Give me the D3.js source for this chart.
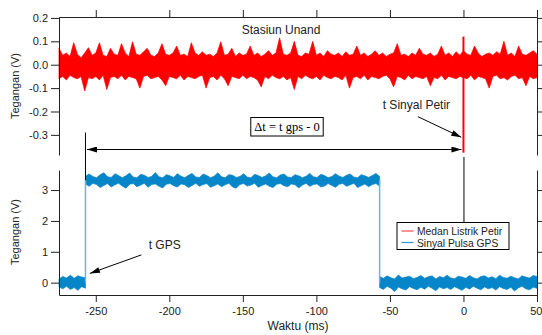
<!DOCTYPE html>
<html>
<head>
<meta charset="utf-8">
<script src="https://cdn.jsdelivr.net/npm/d3@7"></script>
<style>
  body { margin: 0; background: #fff; }
  svg { display: block; font-family: "Liberation Sans", Arial, sans-serif; }
</style>
</head>
<body>
<svg id="chart" width="542" height="335"></svg>
<script>
// time axis (ms)
const timeDomain = [-275, 50];
const xTicks = [-250, -200, -150, -100, -50, 0, 50];
const topTicks = [0.2, 0.1, 0.0, -0.1, -0.2, -0.3];
const bottomTicks = [0, 1, 2, 3];

// Medan Listrik Petir: envelope (max / min per 2.5 ms bin), -275 .. 50 ms
const redHi = [
  0.07,0.04,0.05,0.035,0.094,0.045,0.03,0.05,0.073,0.04,
  0.05,0.094,0.04,0.035,0.07,0.045,0.04,0.09,0.05,0.035,
  0.098,0.045,0.04,0.055,0.07,0.04,0.035,0.05,0.09,0.045,
  0.04,0.05,0.08,0.04,0.045,0.035,0.094,0.05,0.04,0.055,
  0.04,0.045,0.035,0.05,0.098,0.04,0.045,0.07,0.035,0.05,
  0.04,0.045,0.08,0.04,0.05,0.035,0.045,0.06,0.04,0.05,
  0.115,0.045,0.04,0.05,0.1,0.04,0.035,0.05,0.045,0.1,
  0.04,0.05,0.035,0.06,0.045,0.04,0.05,0.035,0.055,0.04,
  0.045,0.08,0.04,0.05,0.035,0.045,0.06,0.04,0.05,0.035,
  0.045,0.05,0.09,0.04,0.045,0.035,0.05,0.04,0.07,0.045,
  0.04,0.05,0.035,0.045,0.08,0.04,0.05,0.035,0.055,0.04,
  0.06,0.045,0.04,0.08,0.05,0.035,0.045,0.05,0.04,0.055,
  0.045,0.1,0.04,0.05,0.035,0.08,0.045,0.04,0.05,0.06,
  0.045
];
const redLo = [
  -0.06,-0.05,-0.065,-0.045,-0.055,-0.06,-0.05,-0.112,-0.055,-0.06,
  -0.05,-0.065,-0.045,-0.106,-0.055,-0.05,-0.06,-0.045,-0.065,-0.05,
  -0.055,-0.06,-0.1,-0.05,-0.045,-0.06,-0.055,-0.05,-0.065,-0.09,
  -0.05,-0.055,-0.06,-0.045,-0.065,-0.05,-0.055,-0.06,-0.05,-0.045,
  -0.1,-0.055,-0.05,-0.065,-0.045,-0.06,-0.09,-0.05,-0.055,-0.06,
  -0.045,-0.06,-0.05,-0.055,-0.065,-0.095,-0.05,-0.06,-0.045,-0.055,
  -0.06,-0.05,-0.065,-0.055,-0.106,-0.05,-0.06,-0.045,-0.055,-0.06,
  -0.05,-0.065,-0.045,-0.055,-0.06,-0.05,-0.055,-0.065,-0.045,-0.1,
  -0.055,-0.05,-0.06,-0.045,-0.065,-0.05,-0.055,-0.06,-0.05,-0.045,
  -0.06,-0.095,-0.05,-0.055,-0.065,-0.045,-0.06,-0.05,-0.055,-0.06,
  -0.05,-0.09,-0.055,-0.06,-0.045,-0.065,-0.05,-0.055,-0.06,-0.05,
  -0.055,-0.06,-0.045,-0.065,-0.05,-0.055,-0.06,-0.1,-0.05,-0.045,
  -0.06,-0.055,-0.065,-0.05,-0.045,-0.06,-0.055,-0.09,-0.05,-0.06,
  -0.055
];
// lightning stroke at t = 0
const petirT = 0;
const petirHi = 0.12;
const petirLo = -0.376;

// Sinyal Pulsa GPS: three segments (low, high, low)
const gpsT = -257;
const gpsFallT = -57;
const gpsLevel = 3.32;

const gpsLowAHi = [0.12,0.20,0.15,0.24,0.14,0.22,0.18,0.16];
const gpsLowALo = [-0.14,-0.20,-0.12,-0.22,-0.16,-0.25,-0.13,-0.18];

const gpsHighHi = [
  3.45,3.52,3.44,3.40,3.50,3.56,3.43,3.41,3.53,3.47,
  3.40,3.46,3.55,3.42,3.40,3.51,3.48,3.41,3.44,3.57,
  3.43,3.40,3.50,3.46,3.41,3.53,3.45,3.40,3.48,3.54,
  3.42,3.41,3.52,3.47,3.40,3.45,3.56,3.43,3.40,3.50,
  3.48,3.41,3.44,3.53,3.42,3.40,3.51,3.47,3.41,3.46,
  3.55,3.43,3.40,3.49,3.52,3.42,3.41,3.50,3.46,3.40,
  3.45,3.54,3.43,3.41,3.51,3.47,3.40,3.44,3.53,3.45,
  3.41,3.48,3.52,3.42,3.40,3.50,3.46,3.41,3.47,3.54,
  3.44
];
const gpsHighLo = [
  3.20,3.12,3.22,3.18,3.08,3.15,3.21,3.10,3.17,3.22,
  3.13,3.06,3.19,3.21,3.11,3.16,3.22,3.09,3.18,3.20,
  3.12,3.07,3.19,3.21,3.14,3.10,3.20,3.17,3.08,3.15,
  3.22,3.12,3.18,3.21,3.09,3.14,3.20,3.11,3.17,3.22,
  3.10,3.06,3.18,3.21,3.13,3.16,3.22,3.09,3.15,3.20,
  3.12,3.08,3.19,3.21,3.14,3.11,3.20,3.17,3.07,3.16,
  3.22,3.12,3.18,3.20,3.10,3.13,3.21,3.15,3.09,3.19,
  3.21,3.12,3.17,3.22,3.08,3.14,3.20,3.11,3.18,3.21,
  3.13
];

const gpsLowBHi = [
  0.20,0.14,0.22,0.16,0.12,0.25,0.15,0.18,0.21,0.13,
  0.17,0.23,0.14,0.19,0.22,0.12,0.20,0.16,0.24,0.15,
  0.13,0.21,0.18,0.14,0.23,0.16,0.12,0.20,0.22,0.15,
  0.19,0.13,0.24,0.17,0.14,0.21,0.16,0.12,0.22,0.18,
  0.15,0.23,0.20
];
const gpsLowBLo = [
  -0.16,-0.22,-0.12,-0.18,-0.29,-0.14,-0.20,-0.24,-0.13,-0.19,
  -0.23,-0.15,-0.21,-0.12,-0.18,-0.26,-0.14,-0.20,-0.16,-0.22,
  -0.13,-0.19,-0.25,-0.15,-0.21,-0.12,-0.18,-0.23,-0.14,-0.20,
  -0.16,-0.24,-0.13,-0.19,-0.22,-0.15,-0.27,-0.17,-0.12,-0.20,
  -0.23,-0.15,-0.18
];

const RED = '#ff0000';
const BLUE = '#0785c9';
const BLUE_EDGE = '#6cb5e3';
const INK = '#222';

const svg = d3.select('#chart');
const left = 59, right = 537;
const topY = [17, 155];
const botY = [170, 295];

const x = d3.scaleLinear().domain(timeDomain).range([left, right]);
const yTop = d3.scaleLinear().domain([-0.386, 0.204]).range([topY[1], topY[0]]);
const yBot = d3.scaleLinear().domain([-0.4, 3.65]).range([botY[1], botY[0]]);

// spread envelope samples evenly over [t0, t1]
function segment(hi, lo, t0, t1) {
  const n = Math.min(hi.length, lo.length);
  const tAt = d3.scaleLinear().domain([0, n - 1]).range([t0, t1]);
  return d3.range(n).map(i => ({ t: tAt(i), hi: hi[i], lo: lo[i] }));
}

function envelope(g, data, y, color) {
  const area = d3.area()
    .x(d => x(d.t))
    .y0(d => y(d.lo))
    .y1(d => y(d.hi));
  g.append('path')
    .datum(data)
    .attr('d', area)
    .attr('fill', color)
    .attr('stroke', color)
    .attr('stroke-width', 0.7)
    .attr('stroke-linejoin', 'miter');
}

// ---- signals ----
const sig = svg.append('g');
envelope(sig, segment(redHi, redLo, timeDomain[0], timeDomain[1]), yTop, RED);
sig.append('line')
  .attr('x1', x(petirT)).attr('x2', x(petirT))
  .attr('y1', yTop(petirHi)).attr('y2', yTop(petirLo))
  .attr('stroke', RED).attr('stroke-width', 2);

envelope(sig, segment(gpsLowAHi, gpsLowALo, timeDomain[0], gpsT), yBot, BLUE);
envelope(sig, segment(gpsHighHi, gpsHighLo, gpsT, gpsFallT), yBot, BLUE);
envelope(sig, segment(gpsLowBHi, gpsLowBLo, gpsFallT, timeDomain[1]), yBot, BLUE);
[gpsT, gpsFallT].forEach(t => {
  sig.append('line')
    .attr('x1', x(t)).attr('x2', x(t))
    .attr('y1', yBot(0)).attr('y2', yBot(gpsLevel))
    .attr('stroke', BLUE_EDGE).attr('stroke-width', 1.5);
});

// ---- axes ----
function styleAxis(g) {
  g.selectAll('path, line').attr('stroke', INK);
  g.selectAll('text').attr('fill', INK).style('font-size', '11px')
    .style('font-family', '"Liberation Sans", Arial, sans-serif');
}

svg.append('g').attr('transform', `translate(${left},0)`)
  .call(d3.axisLeft(yTop).tickValues(topTicks).tickFormat(d => d.toFixed(1)).tickSize(8).tickSizeOuter(0).tickPadding(3))
  .call(styleAxis);
svg.append('g').attr('transform', `translate(${left},0)`)
  .call(d3.axisLeft(yBot).tickValues(bottomTicks).tickFormat(d => String(d)).tickSize(8).tickSizeOuter(0).tickPadding(3))
  .call(styleAxis);
svg.append('g').attr('transform', `translate(${right},0)`)
  .call(d3.axisRight(yTop).tickValues(topTicks).tickFormat('').tickSize(6).tickSizeOuter(0))
  .call(styleAxis);
svg.append('g').attr('transform', `translate(${right},0)`)
  .call(d3.axisRight(yBot).tickValues(bottomTicks).tickFormat('').tickSize(6).tickSizeOuter(0))
  .call(styleAxis);
svg.append('g').attr('transform', `translate(0,${topY[0]})`)
  .call(d3.axisTop(x).tickValues(xTicks).tickFormat('').tickSize(7).tickSizeOuter(0))
  .call(styleAxis);
const xAxisG = svg.append('g').attr('transform', `translate(0,${botY[1]})`)
  .call(d3.axisBottom(x).tickValues(xTicks).tickFormat(d => String(d)).tickSize(7).tickSizeOuter(0).tickPadding(5))
  .call(styleAxis);
// last label sits at the window edge; keep it inside
xAxisG.selectAll('.tick text').filter(d => d === xTicks[xTicks.length - 1])
  .attr('text-anchor', 'end').attr('dx', '5');

// axis titles
svg.append('text').attr('x', (left + right) / 2).attr('y', 330)
  .attr('text-anchor', 'middle').style('font-size', '12px').attr('fill', INK)
  .text('Waktu (ms)');
[[topY, 86], [botY, 232]].forEach(([, cy]) => {
  svg.append('text')
    .attr('transform', `translate(19,${cy}) rotate(-90)`)
    .attr('text-anchor', 'middle').style('font-size', '11px').attr('fill', INK)
    .text('Tegangan (V)');
});

svg.append('text').attr('x', 281).attr('y', 34)
  .attr('text-anchor', 'middle').style('font-size', '12px').attr('fill', INK)
  .text('Stasiun Unand');

// ---- annotations ----
const defs = svg.append('defs');
defs.append('marker').attr('id', 'head')
  .attr('viewBox', '0 0 10 6').attr('refX', 10).attr('refY', 3)
  .attr('markerUnits', 'userSpaceOnUse')
  .attr('markerWidth', 12).attr('markerHeight', 6).attr('orient', 'auto-start-reverse')
  .append('path').attr('d', 'M0,0L10,3L0,6Z').attr('fill', '#000');

// reference verticals
svg.append('line')
  .attr('x1', x(gpsT)).attr('x2', x(gpsT))
  .attr('y1', yTop(-0.29)).attr('y2', yBot(gpsLevel))
  .attr('stroke', '#000').attr('stroke-width', 1);
svg.append('line')
  .attr('x1', x(petirT) + 0.5).attr('x2', x(petirT) + 0.5)
  .attr('y1', 157).attr('y2', 222)
  .attr('stroke', '#000').attr('stroke-width', 1);

// Δt double arrow
const arrowY = 149.5;
svg.append('line')
  .attr('x1', x(gpsT) + 1.5).attr('x2', x(petirT) - 2)
  .attr('y1', arrowY).attr('y2', arrowY)
  .attr('stroke', '#000').attr('stroke-width', 1)
  .attr('marker-start', 'url(#head)').attr('marker-end', 'url(#head)');

const dt = svg.append('g');
const dtText = dt.append('text').attr('x', 287).attr('y', 131)
  .attr('text-anchor', 'middle')
  .style('font-family', '"Liberation Serif", "Times New Roman", serif')
  .style('font-size', '12.5px').attr('fill', '#000')
  .text('\u0394t = t gps - 0');
const bb = dtText.node().getBBox();
dt.insert('rect', 'text')
  .attr('x', bb.x - 3.5).attr('y', 117.5)
  .attr('width', bb.width + 7).attr('height', 18.5)
  .attr('fill', '#fff').attr('stroke', '#000').attr('stroke-width', 1);

// t Sinyal Petir
svg.append('text').attr('x', x(-32)).attr('y', 109)
  .attr('text-anchor', 'middle').style('font-size', '12px').attr('fill', INK)
  .text('t Sinyal Petir');
svg.append('line')
  .attr('x1', x(-31)).attr('y1', yTop(-0.222))
  .attr('x2', x(-1.5)).attr('y2', yTop(-0.31))
  .attr('stroke', '#000').attr('stroke-width', 1)
  .attr('marker-end', 'url(#head)');

// t GPS
svg.append('text').attr('x', x(-214)).attr('y', 249)
  .style('font-size', '12px').attr('fill', INK)
  .text('t GPS');
svg.append('line')
  .attr('x1', x(-219)).attr('y1', yBot(0.9))
  .attr('x2', x(-254)).attr('y2', yBot(0.3))
  .attr('stroke', '#000').attr('stroke-width', 1)
  .attr('marker-end', 'url(#head)');

// ---- legend ----
const legendItems = [
  { label: 'Medan Listrik Petir', color: '#ff4a4a' },
  { label: 'Sinyal Pulsa GPS', color: '#2a95d6' }
];
const lg = svg.append('g').attr('transform', 'translate(397,222.5)');
lg.append('rect').attr('width', 112).attr('height', 27)
  .attr('fill', '#fff').attr('stroke', '#000').attr('stroke-width', 1);
legendItems.forEach((d, i) => {
  const row = lg.append('g').attr('transform', `translate(0,${8.5 + i * 11.5})`);
  row.append('line').attr('x1', 4.5).attr('x2', 16.5).attr('y1', 0).attr('y2', 0)
    .attr('stroke', d.color).attr('stroke-width', 1.2);
  row.append('text').attr('x', 20).attr('y', 4)
    .style('font-size', '10.3px').attr('fill', INK).text(d.label);
});
</script>
</body>
</html>
